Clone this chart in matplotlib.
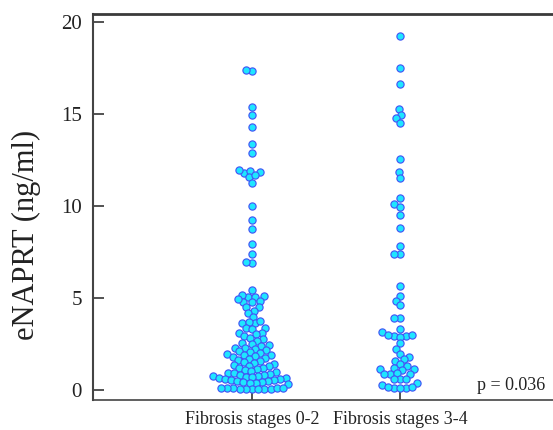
import matplotlib
matplotlib.use("Agg")
import matplotlib.pyplot as plt
import numpy as np

categories = ["Fibrosis stages 0-2", "Fibrosis stages 3-4"]

stage_0_2 = [
    17.32, 17.41, 15.40, 14.96, 14.28, 13.37, 12.86,
    11.79, 11.86, 11.92, 11.97, 11.56, 11.68, 11.27,
    10.02, 9.24, 8.75, 7.93, 7.41, 6.92, 6.94,
    5.43, 5.04, 5.07, 5.13, 5.16, 4.78, 4.78, 4.85, 4.93,
    4.53, 4.49, 4.31, 4.17, 3.95, 3.62, 3.62, 3.70, 3.77,
    3.35, 3.39, 3.32, 3.12, 3.12,
    3.03, 2.94, 2.85, 2.76, 2.67,
    2.58, 2.52, 2.45, 2.38, 2.31, 2.28, 2.24, 2.17, 2.10, 2.06,
    2.03, 1.97, 1.92, 1.89, 1.86, 1.81, 1.76, 1.70, 1.65, 1.59, 1.54,
    1.49, 1.43, 1.38, 1.33, 1.28, 1.22, 1.17, 1.12, 1.07,
    1.01, 0.98, 0.95, 0.92, 0.86, 0.84, 0.81, 0.78,
    0.76, 0.73, 0.68, 0.66, 0.63, 0.61, 0.58, 0.56,
    0.53, 0.51, 0.48, 0.43, 0.41, 0.38, 0.36, 0.33,
    0.05, 0.06, 0.07, 0.08, 0.08, 0.09, 0.10, 0.10, 0.11, 0.12, 0.06,
]

stage_3_4 = [
    19.26, 17.50, 16.65, 15.25, 14.93, 14.76, 14.51, 12.55, 11.83, 11.50,
    10.42, 10.09, 9.96, 9.53, 8.79, 7.83, 7.39, 7.39, 5.65, 5.13, 4.85, 4.60,
    3.90, 3.90, 3.32, 3.17, 2.95, 2.95, 2.90, 2.99, 2.99, 2.54, 2.23, 1.96,
    1.81, 1.67, 1.58, 1.40, 1.32, 1.18, 1.14, 1.09, 1.12, 0.87, 0.87, 0.90,
    0.87, 0.60, 0.60, 0.60, 0.36, 0.27, 0.12, 0.12, 0.09, 0.14, 0.14,
]

y_ticks = [0, 5, 10, 15, 20]
p_text = "p = 0.036"
y_label = "eNAPRT (ng/ml)"

plt.rcParams["font.family"] = ["Liberation Serif", "DejaVu Serif"]

W, H = 553, 430
fig = plt.figure(figsize=(W / 100, H / 100), dpi=100)
ax = fig.add_axes([93 / W, 30 / H, 460 / W, 386 / H])
ax.set_xlim(-1.074, 2.034)
ax.set_ylim(-0.543, 20.435)

marker_px = 7.2      # drawn marker diameter in pixels
collide_px = 6.2     # allowed centre distance (points may overlap slightly)


def swarm_offsets(values, ax, collide):
    """Beeswarm layout: returns x offsets in pixels for each value."""
    fig.canvas.draw()
    vals = np.asarray(values, dtype=float)
    ypx = ax.transData.transform(np.column_stack([np.zeros_like(vals), vals]))[:, 1]
    order = np.argsort(ypx, kind="stable")
    placed_x, placed_y = [], []
    offs = np.zeros(len(vals))
    for i in order:
        y = ypx[i]
        neigh = [(px, py) for px, py in zip(placed_x, placed_y) if abs(py - y) < collide]
        cands = [0.0]
        for px, py in neigh:
            dx = np.sqrt(max(collide ** 2 - (py - y) ** 2, 0.0))
            cands += [px + dx, px - dx]
        cands = sorted(cands, key=lambda c: (round(abs(c), 6), c))
        for c in cands:
            ok = all((c - px) ** 2 + (y - py) ** 2 >= collide ** 2 - 1e-6 for px, py in neigh)
            if ok:
                offs[i] = c
                break
        placed_x.append(offs[i])
        placed_y.append(y)
    return offs


groups = [stage_0_2, stage_3_4]
x0_px = ax.transData.transform((0, 0))[0]
x1_px = ax.transData.transform((1, 0))[0]
px_per_unit = x1_px - x0_px
msize_pt = marker_px * 72 / 100
for k, vals in enumerate(groups):
    offs = swarm_offsets(vals, ax, collide_px)
    xs = k + offs / px_per_unit
    ax.scatter(xs, vals, s=msize_pt ** 2, c="#1ee6ff", edgecolors="#4257f5",
               linewidths=0.85, zorder=3, clip_on=False)

ax.set_yticks(y_ticks)
ax.set_yticklabels([str(t) for t in y_ticks], fontsize=15, color="#222222")
ax.set_xticks([0, 1])
ax.set_xticklabels(categories, fontsize=13, color="#222222")
ax.set_ylabel(y_label, fontsize=22, color="#222222")
ax.yaxis.set_label_coords(-0.113, 0.427)

ax.tick_params(axis="y", direction="in", length=8, width=1.3, color="#444444", pad=8)
ax.tick_params(axis="x", direction="in", length=10, width=1.3, color="#444444", pad=8)

ax.spines["right"].set_visible(False)
ax.spines["top"].set_linewidth(2.0)
ax.spines["top"].set_color("#3a3a3a")
ax.spines["left"].set_linewidth(1.5)
ax.spines["left"].set_color("#444444")
ax.spines["bottom"].set_linewidth(1.2)
ax.spines["bottom"].set_color("#444444")

fig.text(545 / W, 1 - 386 / H, p_text, fontsize=13, color="#222222",
         ha="right", va="center")

fig.savefig("out.png", dpi=100)
